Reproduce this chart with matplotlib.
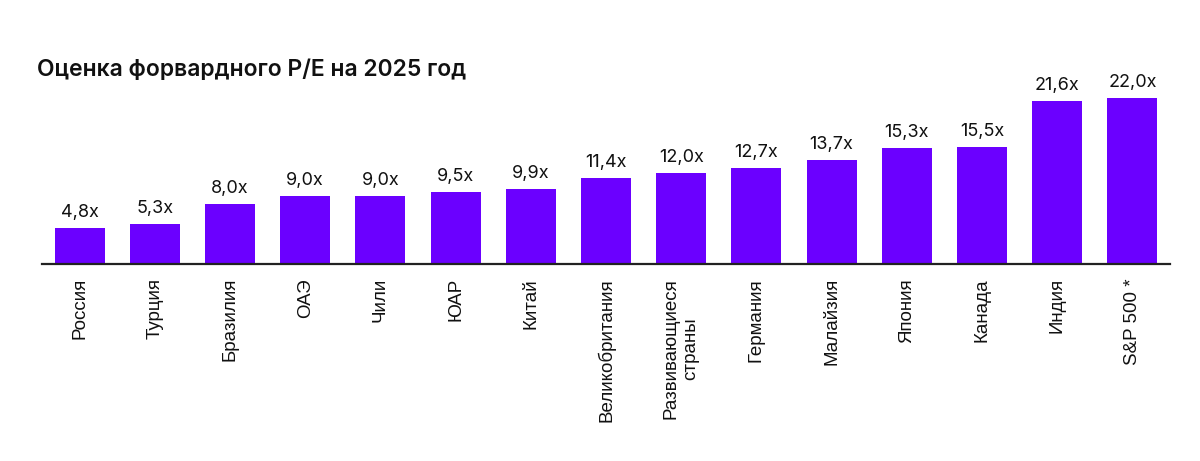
import matplotlib.pyplot as plt
import numpy as np

countries = ['Россия', 'Турция', 'Бразилия', 'ОАЭ', 'Чили', 'ЮАР', 'Китай',
             'Великобритания', 'Развивающиеся\nстраны', 'Германия', 'Малайзия',
             'Япония', 'Канада', 'Индия', 'S&P 500 *']
pe_values = [4.8, 5.3, 8.0, 9.0, 9.0, 9.5, 9.9, 11.4, 12.0, 12.7, 13.7, 15.3, 15.5, 21.6, 22.0]

bar_color = '#6B00FF'

fig = plt.figure(figsize=(12, 4.61), dpi=100)
ax = fig.add_axes([0.035, 0.4273, 0.94, 0.41])

x = np.arange(len(countries))
bars = ax.bar(x, pe_values, width=0.667, color=bar_color)

for xi, v in zip(x, pe_values):
    ax.annotate(f'{v:.1f}x'.replace('.', ','), (xi, v), xytext=(0, 5),
                textcoords='offset points', ha='center', va='bottom',
                fontsize=13, family='Inter', color='#111111')

ax.set_xlim(-0.5, 14.5)
ax.set_ylim(0, 25)
ax.set_xticks(x)
ax.set_xticklabels(countries, rotation=90, ha='center', va='top',
                   multialignment='center', fontsize=13.5,
                   family='Liberation Sans', color='#111111')
ax.tick_params(axis='x', length=0, pad=10)
ax.set_yticks([])
for s in ['top', 'right', 'left']:
    ax.spines[s].set_visible(False)
ax.spines['bottom'].set_color('#222222')
ax.spines['bottom'].set_linewidth(1.6)

fig.text(0.031, 0.848, 'Оценка форвардного P/E на 2025 год', fontsize=16.5,
         fontweight='semibold', family='Inter', color='#111111', va='center')

fig.savefig('out.png', dpi=100)
